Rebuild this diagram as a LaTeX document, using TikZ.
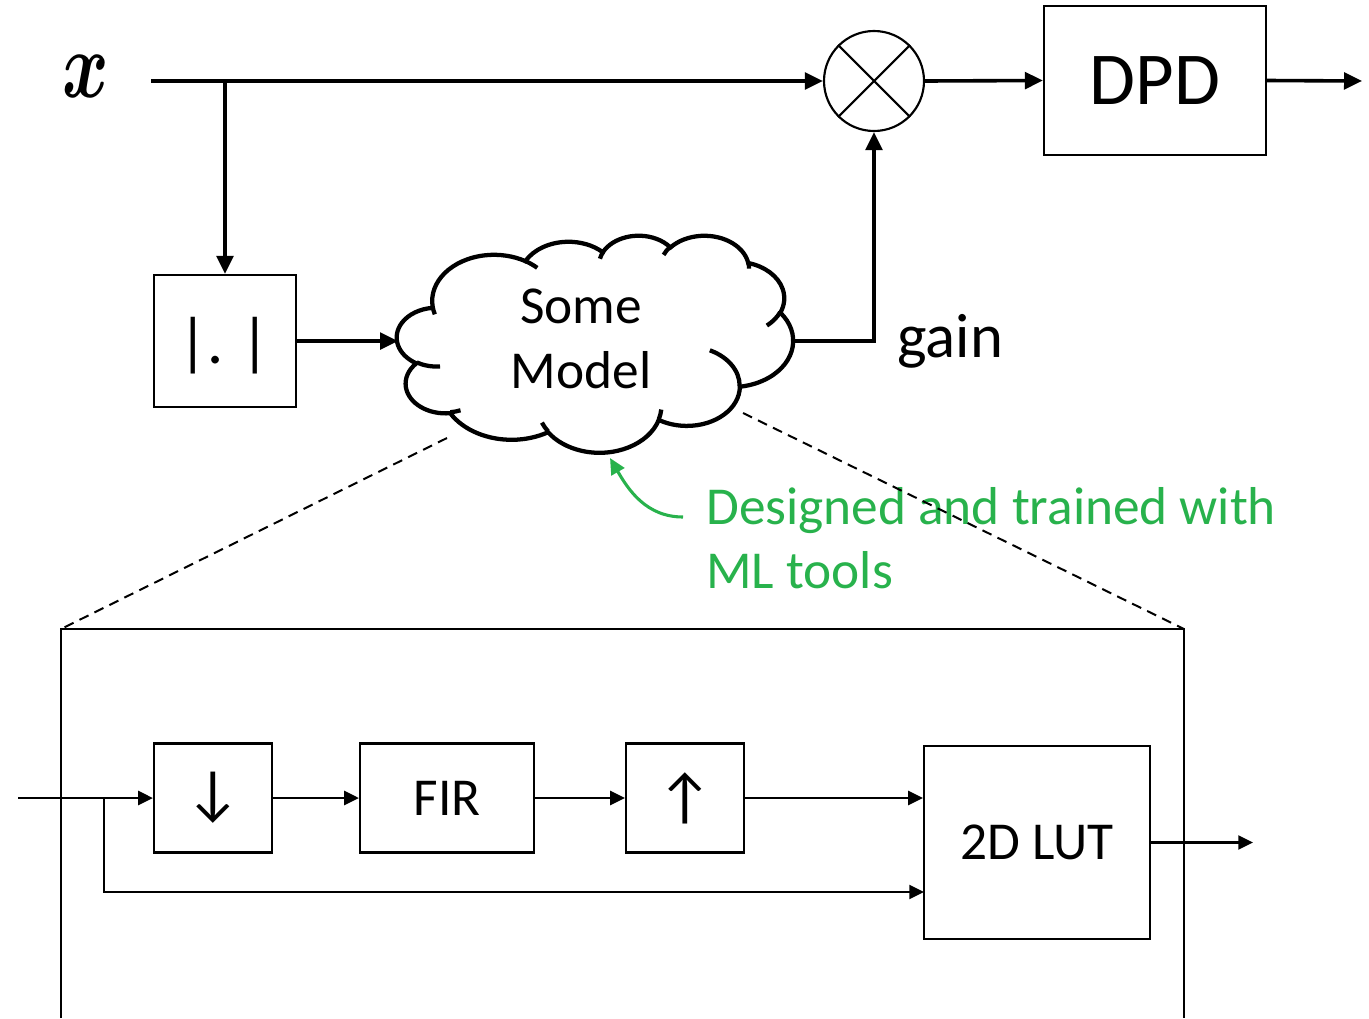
\documentclass[tikz,border=0pt]{standalone}
\usepackage{bm}
\usepackage{fontspec}
\setmainfont{Carlito}
\usetikzlibrary{arrows.meta,calc}
\definecolor{mlgreen}{RGB}{40,178,76}
\tikzset{
  carc/.style n args={4}{x radius=#1, y radius=#2,
    start angle={atan2(#1*sin(#3),#2*cos(#3))},
    delta angle={mod(atan2(#1*sin(#3+#4),#2*cos(#3+#4))-atan2(#1*sin(#3),#2*cos(#3))+720,360)}},
}
\begin{document}
\begin{tikzpicture}[x=0.75pt,y=-0.75pt,
  arr/.style={line width=2.7pt,-{Triangle[length=13.5pt,width=12.5pt]}},
  thinarr/.style={line width=1.6pt,-{Triangle[length=11pt,width=10.5pt]}},
  blk/.style={draw,line width=1.7pt,inner sep=0pt,font=\fontsize{40}{48}\selectfont},
  cloudline/.style={line width=3.2pt},
  zoomline/.style={line width=1.5pt},
  dashline/.style={line width=1.5pt,dash pattern=on 7.5pt off 5pt},
  greentext/.style={text=mlgreen,font=\fontsize{40}{48}\selectfont,inner sep=0pt,anchor=base west},
]
\useasboundingbox (0,0) rectangle (1369,1018);

% ---------- top part ----------
\node[inner sep=0pt] (xlab) at (86,76) {\scalebox{5.3}[7.1]{$\bm{x}$}};
\coordinate (xin) at (151,81);
\node[draw,circle,line width=1.6pt,minimum size=75pt,inner sep=0pt] (mul) at (874,81) {};
\draw[line width=1.6pt] (mul.north west) -- (mul.south east) (mul.north east) -- (mul.south west);
\node[blk,minimum width=166.5pt,minimum height=111.75pt,font=\fontsize{56}{60}\selectfont] (dpd) at (1155,80.5) {DPD};
\coordinate (out1) at (1362,81);
\node[blk,minimum width=106.5pt,minimum height=99pt] (abs) at (225,341) {};
\node[inner sep=0pt,font=\fontsize{48}{48}\selectfont] (abstext) at (224,346) {|.\hspace{12pt}|};

% cloud
\begin{scope}[shift={(397,235)},xscale=396/432,yscale=217/432]
\draw[cloudline,fill=white] (39.00,143.70)
  arc[carc={67.53}{91.90}{-190.4875}{123.7805}]
  arc[carc={53.33}{72.67}{-144.1024}{89.9452}]
  arc[carc={43.65}{59.45}{-145.8079}{99.7230}]
  arc[carc={48.57}{65.95}{-130.9861}{117.2417}]
  arc[carc={53.33}{72.73}{-78.7089}{109.0269}]
  arc[carc={67.75}{92.20}{-46.2673}{130.2690}]
  arc[carc={57.85}{78.67}{0.6250}{114.0333}]
  arc[carc={67.52}{92.15}{22.4516}{115.1726}]
  arc[carc={77.20}{105.43}{66.2426}{75.7110}]
  arc[carc={43.60}{59.18}{-274.9421}{146.7356}]
  arc[carc={43.45}{59.45}{-246.8285}{152.5189}]
  -- cycle;
\draw[cloudline]
  (46.93,261.77) arc[carc={43.45}{59.45}{86.7420}{26.4295}]
  (69.28,348.99) arc[carc={43.60}{59.18}{73.6105}{11.4475}]
  (164.78,390.90) arc[carc={67.52}{92.15}{137.6242}{14.0811}]
  (288.27,347.51) arc[carc={67.52}{92.15}{6.4533}{15.9984}]
  (341.29,229.54) arc[carc={57.85}{78.67}{-70.2924}{70.9174}]
  (417.98,153.54) arc[carc={53.33}{72.73}{30.3180}{27.7515}]
  (383.24,54.26) arc[carc={48.57}{65.95}{-13.7443}{14.8589}]
  (290.78,39.52) arc[carc={48.57}{65.95}{-149.1815}{18.1954}]
  (221.41,47.20) arc[carc={43.65}{59.45}{-163.4943}{17.6864}]
  (140.00,51.92) arc[carc={67.53}{91.90}{-66.7070}{12.3194}]
  (41.27,157.89) arc[carc={67.53}{91.90}{157.6544}{11.8582}];
\end{scope}
\node[align=center,inner sep=0pt,font=\fontsize{40}{48.5}\selectfont] (model) at (581,339) {Some\\Model};
\coordinate (cloudW) at (398,341);
\coordinate (cloudE) at (793,341);
\node[inner sep=0pt,anchor=base west,font=\fontsize{47}{48}\selectfont] (gain) at (897,357) {gain};

\draw[arr] (xin) -- (mul.west);
\draw[arr] (abs.north |- xin) -- (abs.north);
\draw[arr] (abs.east) -- (cloudW);
\draw[arr] (cloudE) -| (mul.south);
\draw[arr] (mul.east) -- (dpd.west);
\draw[arr] (dpd.east) -- (out1);

% green annotation
\coordinate (gstart) at (683,517);
\coordinate (gend) at (610,458);
\draw[mlgreen,line width=2.3pt,-{Triangle[length=12pt,width=11pt]}] (gstart) to[out=180,in=-60] (gend);
\node[greentext] (g1) at (706,524) {Designed and trained with};
\node[greentext] (g2) at (706,588) {ML tools};

% zoom lines
\coordinate (dl) at (447,438);
\coordinate (dr) at (743,413);
\coordinate (boxTL) at (61,629);
\coordinate (boxTR) at (1184,629);
\coordinate (boxBL) at (61,1018);
\coordinate (boxBR) at (1184,1018);
\draw[dashline] (dl) -- (boxTL);
\draw[dashline] (dr) -- (boxTR);
\draw[zoomline] (boxBL) -- (boxTL) -- (boxTR) -- (boxBR);

% ---------- inner diagram ----------
\node[blk,minimum width=88.5pt,minimum height=81.75pt,font=\fontsize{46}{46}\selectfont] (down) at (213,798) {↓};
\node[blk,minimum width=130.5pt,minimum height=81.75pt] (fir) at (447,798) {FIR};
\node[blk,minimum width=88.5pt,minimum height=81.75pt,font=\fontsize{46}{46}\selectfont] (up) at (685,798) {↑};
\node[blk,minimum width=169.5pt,minimum height=144.75pt] (lut) at (1037,842.5) {2D LUT};
\coordinate (in2) at (18,798);
\coordinate (br2) at (104,798);
\coordinate (lutlow) at (924,892);
\coordinate (out2) at (1253,842.5);
\draw[thinarr] (in2) -- (down.west);
\draw[thinarr] (br2) |- (lutlow);
\draw[thinarr] (down.east) -- (fir.west);
\draw[thinarr] (fir.east) -- (up.west);
\draw[thinarr] (up.east) -- (up.east -| lut.west);
\draw[thinarr] (lut.east) -- (out2);
\end{tikzpicture}
\end{document}
